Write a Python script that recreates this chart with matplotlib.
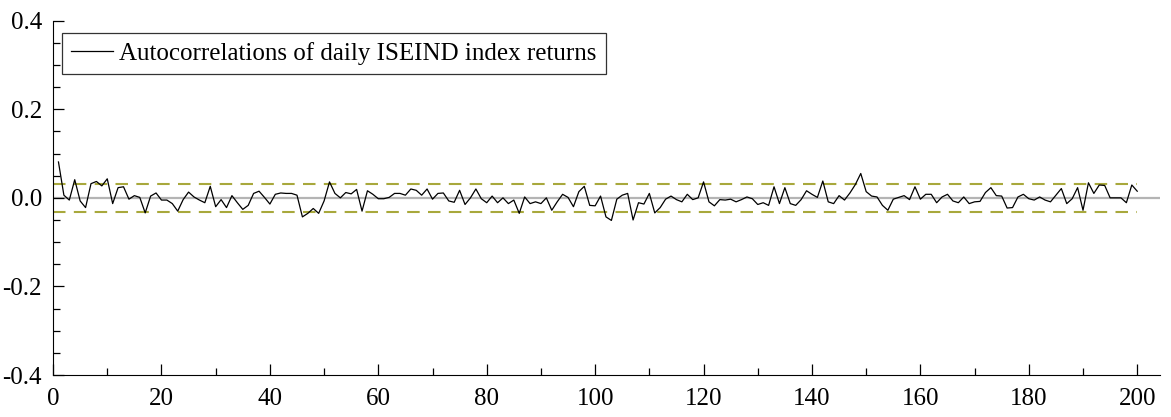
import numpy as np
import matplotlib.pyplot as plt
from matplotlib.ticker import MultipleLocator, FormatStrFormatter

plt.rcParams['font.family'] = ['Liberation Serif', 'DejaVu Serif']
plt.rcParams['axes.unicode_minus'] = False

# autocorrelations for lags 1..200
acf = [
    0.081, 0.006, -0.005, 0.041, -0.007, -0.022, 0.032, 0.037, 0.027, 0.043,
    -0.013, 0.023, 0.025, -0.003, 0.005, 0.001, -0.034, 0.004, 0.011, -0.005,
    -0.005, -0.013, -0.030, -0.004, 0.013, 0.002, -0.005, -0.011, 0.026, -0.020,
    -0.004, -0.022, 0.005, -0.011, -0.026, -0.017, 0.010, 0.015, 0.001, -0.014,
    0.008, 0.011, 0.010, 0.010, 0.006, -0.043, -0.035, -0.024, -0.035, -0.007,
    0.036, 0.010, 0.000, 0.012, 0.009, 0.019, -0.030, 0.016, 0.008, -0.002,
    -0.002, 0.001, 0.010, 0.010, 0.006, 0.020, 0.017, 0.006, 0.020, -0.003,
    0.010, 0.011, -0.007, -0.010, 0.017, -0.015, 0.000, 0.020, -0.002, -0.011,
    0.004, -0.011, 0.000, -0.013, -0.005, -0.035, 0.002, -0.013, -0.009, -0.013,
    0.000, -0.028, -0.009, 0.008, 0.001, -0.020, 0.014, 0.026, -0.017, -0.018,
    0.004, -0.043, -0.051, -0.003, 0.006, 0.010, -0.050, -0.011, -0.014, 0.010,
    -0.034, -0.022, -0.003, 0.004, -0.004, -0.009, 0.008, -0.004, 0.000, 0.036,
    -0.009, -0.018, -0.004, -0.005, -0.003, -0.009, -0.004, 0.002, -0.002, -0.015,
    -0.011, -0.017, 0.025, -0.013, 0.023, -0.013, -0.017, -0.004, 0.016, 0.008,
    0.001, 0.038, -0.009, -0.013, 0.005, -0.005, 0.011, 0.030, 0.055, 0.014,
    0.004, 0.002, -0.017, -0.028, -0.003, 0.001, 0.005, -0.004, 0.025, -0.003,
    0.008, 0.008, -0.011, 0.002, 0.008, -0.007, -0.011, 0.002, -0.013, -0.009,
    -0.008, 0.012, 0.023, 0.005, 0.004, -0.023, -0.022, 0.002, 0.008, -0.002,
    -0.005, 0.002, -0.005, -0.009, 0.006, 0.021, -0.013, -0.002, 0.023, -0.028,
    0.034, 0.010, 0.029, 0.028, 0.000, 0.000, 0.000, -0.011, 0.029, 0.015,
]
lags = np.arange(1, len(acf) + 1)
band = 0.031  # confidence bound

fig = plt.figure(figsize=(11.71, 4.17), dpi=100)
ax = fig.add_axes([0.0453, 0.1007, 0.9453, 0.8497])

ax.axhline(0, color='#b4b4b4', lw=1.6, zorder=1)
ax.plot([0, 200], [band, band], color='#a8a83c', lw=1.5, dashes=(6, 4), zorder=2)
ax.plot([0, 200], [-band, -band], color='#a8a83c', lw=1.5, dashes=(6, 4), zorder=2)
ax.plot(lags, acf, color='black', lw=0.9, zorder=3,
        label='Autocorrelations of daily ISEIND index returns')

ax.set_xlim(0, 204.2)
ax.set_ylim(-0.4, 0.4)
ax.xaxis.set_major_locator(MultipleLocator(20))
ax.xaxis.set_minor_locator(MultipleLocator(10))
ax.yaxis.set_major_locator(MultipleLocator(0.2))
ax.yaxis.set_minor_locator(MultipleLocator(0.05))
ax.yaxis.set_major_formatter(FormatStrFormatter('%.1f'))

for s in ['top', 'right']:
    ax.spines[s].set_visible(False)
ax.tick_params(which='both', direction='in', labelsize=18)
ax.tick_params(which='major', length=8, width=0.9)
ax.tick_params(which='minor', length=5, width=0.9)
ax.tick_params(axis='x', pad=9)
ax.tick_params(axis='y', pad=8)

leg = ax.legend(loc='upper left', bbox_to_anchor=(0.008, 0.965), fontsize=18,
                frameon=True, fancybox=False, handlelength=1.7,
                borderpad=0.35, handletextpad=0.25, borderaxespad=0)
leg.get_frame().set_edgecolor('black')
leg.get_frame().set_linewidth(0.9)

fig.savefig('out.png', dpi=100)
